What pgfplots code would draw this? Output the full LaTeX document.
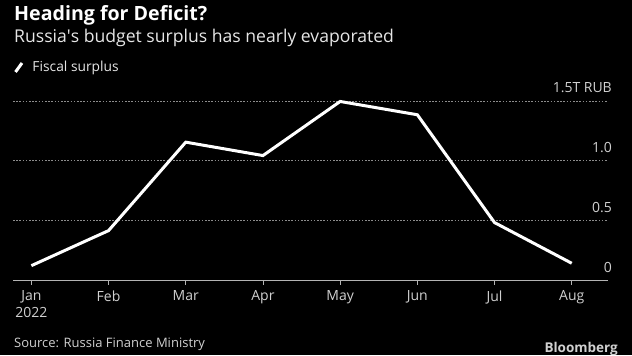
\documentclass[border=0pt]{standalone}
\usepackage{pgfplots}
\pgfplotsset{compat=1.18}
\usepackage{fontspec}
\setmainfont{Open Sans}
\definecolor{txt}{HTML}{E6E6E6}
\definecolor{lbl}{HTML}{D0D0D0}
\definecolor{grd}{HTML}{8C8C8C}
\definecolor{axl}{HTML}{B4B4B4}
\begin{document}
\begin{tikzpicture}[x=1bp,y=1bp]
\fill[black] (0,0) rectangle (632,355);
\node[anchor=base west, inner sep=0pt, text=white, font=\fontsize{19.6bp}{22bp}\selectfont\bfseries] at (14,334.3) {Heading for Deficit?};
\node[anchor=base west, inner sep=0pt, text=txt, font=\fontsize{17.6bp}{20bp}\selectfont] at (14,312.3) {Russia\textquotesingle s budget surplus has nearly evaporated};
\draw[white, line width=3bp] (15.5,355-72) -- (22,355-63);
\node[anchor=base west, inner sep=0pt, text=txt, font=\fontsize{13.8bp}{16bp}\selectfont] at (32.3,283.3) {Fiscal surplus};
\node[anchor=base west, inner sep=0pt, text=lbl, font=\fontsize{13bp}{16bp}\selectfont] at (14,7.7) {Source: Russia Finance Ministry};
\node[anchor=base east, inner sep=0pt, text=lbl, font=\fontsize{13.5bp}{16bp}\selectfont\bfseries] at (618,2.3) {Bloomberg};
\begin{axis}[
  at={(13bp,74.5bp)}, anchor=south west,
  width=595bp, height=179.5bp, scale only axis,
  xmin=-0.238, xmax=7.47, ymin=0, ymax=1.5,
  clip=false,
  axis x line*=bottom, axis y line*=right,
  x axis line style={draw=axl, line width=0.9bp, -},
  y axis line style={draw=none},
  xtick={0,1,2,3,4,5,6,7},
  xticklabels={{Jan\\2022},Feb,Mar,Apr,May,Jun,Jul,Aug},
  xtick style={draw=axl, line width=0.9bp},
  tick align=outside, major tick length=4bp,
  xticklabel style={align=center, text=lbl, font=\fontsize{14bp}{17.3bp}\selectfont, inner sep=0pt, anchor=north, yshift=-6bp},
  ytick={0,0.5,1,1.5},
  yticklabels={0,0.5,1.0,1.5T RUB},
  ytick style={draw=none},
  yticklabel style={anchor=south east, text=lbl, font=\fontsize{14bp}{17bp}\selectfont, inner sep=0pt, yshift=8bp},
  ymajorgrids,
  grid style={draw=grd, line width=0.8bp, dash pattern=on 1.6bp off 1.6bp},
  /pgf/number format/assume math mode=true,
]
\addplot[white, line width=3bp, line join=miter] coordinates {
 (0,0.124) (1,0.417) (2,1.156) (3,1.044) (4,1.496) (5,1.385) (6,0.484) (7,0.144)
};
\end{axis}
\end{tikzpicture}
\end{document}
